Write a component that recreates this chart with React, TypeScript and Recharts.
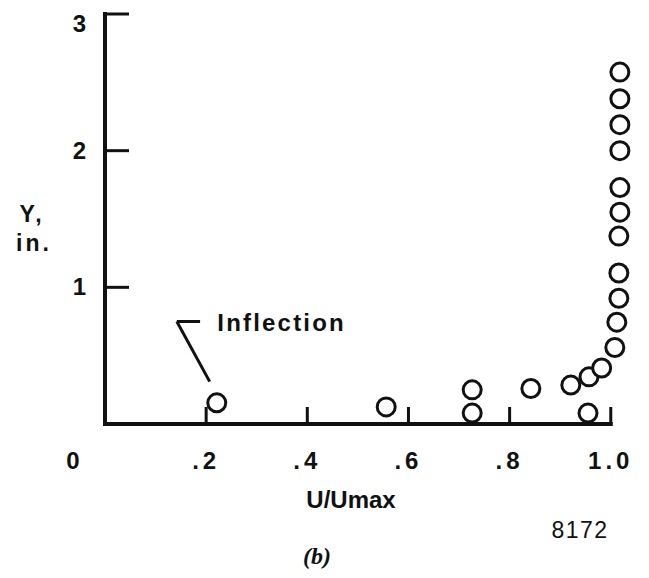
import React from 'react';
import {
  ScatterChart,
  Scatter,
  XAxis,
  YAxis,
  ReferenceLine,
  ReferenceDot,
} from 'recharts';

// velocity ratio U/Umax and height Y (in.)
const uValues = [
  0.221, 0.556, 0.726, 0.726, 0.842, 0.921, 0.955, 0.957, 0.982, 1.008,
  1.012, 1.016, 1.016, 1.016, 1.018, 1.018, 1.018, 1.018, 1.018, 1.018,
];
const yValues = [
  0.155, 0.125, 0.25, 0.08, 0.26, 0.285, 0.08, 0.345, 0.41, 0.56,
  0.745, 0.92, 1.105, 1.375, 1.55, 1.73, 2.0, 2.19, 2.38, 2.575,
];

const xTicks = [0, 0.2, 0.4, 0.6, 0.8, 1.0];
const xTickLabels = ['0', '.2', '.4', '.6', '.8', '1.0'];
const yTicks = [1, 2, 3];
const yTickLabels = ['1', '2', '3'];

// "Inflection" callout, in data units
const leaderBar = [{ x: 0.142, y: 0.75 }, { x: 0.188, y: 0.75 }];
const leaderArm = [{ x: 0.142, y: 0.75 }, { x: 0.207, y: 0.31 }];
const calloutAt = { x: 0.222, y: 0.746 };

const points = uValues.map((u, i) => ({ u, y: yValues[i] }));

const SANS = '"Liberation Sans", Arial, sans-serif';
const INK = '#111';

const XTick = (props: any) => {
  const { x, y, payload, index } = props;
  const v = payload.value;
  return (
    <g>
      {v !== 0 && (
        <line x1={x} y1={y} x2={x} y2={y - 17} stroke={INK} strokeWidth={3} />
      )}
      <text
        x={v === 0 ? x - 30 : x}
        y={y + 45}
        textAnchor="middle"
        fontFamily={SANS}
        fontWeight="bold"
        fontSize={24}
        letterSpacing={4}
        fill={INK}
      >
        {xTickLabels[index]}
      </text>
    </g>
  );
};

const YTick = (props: any) => {
  const { x, y, payload, index } = props;
  const v = payload.value;
  return (
    <g>
      <line x1={x} y1={y} x2={x + 24} y2={y} stroke={INK} strokeWidth={3} />
      <text
        x={x - 19}
        y={y + 8 + (v === 3 ? 10 : 0)}
        textAnchor="end"
        fontFamily={SANS}
        fontWeight="bold"
        fontSize={24}
        fill={INK}
      >
        {yTickLabels[index]}
      </text>
    </g>
  );
};

const YTitle = ({ viewBox }: any) => {
  const x = viewBox.x + viewBox.width - 73;
  return (
    <g fontFamily={SANS} fontWeight="bold" fontSize={23} fill={INK} letterSpacing={3}>
      <text x={x} y={222} textAnchor="middle">Y,</text>
      <text x={x + 2} y={251} textAnchor="middle">in.</text>
    </g>
  );
};

const BottomText = ({ viewBox }: any) => {
  const x0 = viewBox.x;
  return (
    <g fill={INK}>
      <text x={x0 + 246} y={508} textAnchor="middle" fontFamily={SANS} fontWeight="bold" fontSize={24}>
        U/Umax
      </text>
      <text x={x0 + 475} y={538} textAnchor="middle" fontFamily={SANS} fontSize={23} letterSpacing={1.5}>
        8172
      </text>
      <text
        x={x0 + 212}
        y={564}
        textAnchor="middle"
        fontFamily='"Liberation Serif", "DejaVu Serif", serif'
        fontWeight="bold"
        fontStyle="italic"
        fontSize={24}
      >
        (b)
      </text>
    </g>
  );
};

const Ring = (props: any) => (
  <circle cx={props.cx} cy={props.cy} r={9} fill="#fff" stroke={INK} strokeWidth={3} />
);

const Callout = (props: any) => (
  <text
    x={props.cx}
    y={props.cy + 9}
    fontFamily={SANS}
    fontWeight="bold"
    fontSize={24}
    letterSpacing={2.2}
    fill={INK}
  >
    Inflection
  </text>
);

export default function App() {
  return (
    <div style={{ position: 'absolute', left: 0, top: 0, width: 649, height: 578, background: '#fff' }}>
      <ScatterChart width={649} height={578} margin={{ top: 14, right: 18, bottom: 153, left: 104 }}>
        <XAxis
          type="number"
          dataKey="u"
          domain={[0, 1.04]}
          ticks={xTicks}
          interval={0}
          height={1}
          tickSize={0}
          tickMargin={0}
          axisLine={false}
          tickLine={false}
          tick={<XTick />}
          label={{ content: <BottomText /> }}
        />
        <YAxis
          type="number"
          dataKey="y"
          domain={[0, 3]}
          ticks={yTicks}
          interval={0}
          width={1}
          tickSize={0}
          tickMargin={0}
          axisLine={false}
          tickLine={false}
          tick={<YTick />}
          label={{ content: <YTitle /> }}
        />
        <ReferenceLine
          segment={[{ x: 0, y: 0 }, { x: 1.0, y: 0 }]}
          stroke={INK}
          strokeWidth={4}
          strokeLinecap="square"
          ifOverflow="visible"
        />
        <ReferenceLine
          segment={[{ x: 0, y: 0 }, { x: 0, y: 3 }]}
          stroke={INK}
          strokeWidth={4}
          strokeLinecap="square"
          ifOverflow="visible"
        />
        <ReferenceLine segment={leaderBar} stroke={INK} strokeWidth={3} ifOverflow="visible" />
        <ReferenceLine segment={leaderArm} stroke={INK} strokeWidth={3} ifOverflow="visible" />
        <ReferenceDot x={calloutAt.x} y={calloutAt.y} r={0} ifOverflow="visible" shape={<Callout />} />
        <Scatter data={points} shape={<Ring />} isAnimationActive={false} />
      </ScatterChart>
    </div>
  );
}
